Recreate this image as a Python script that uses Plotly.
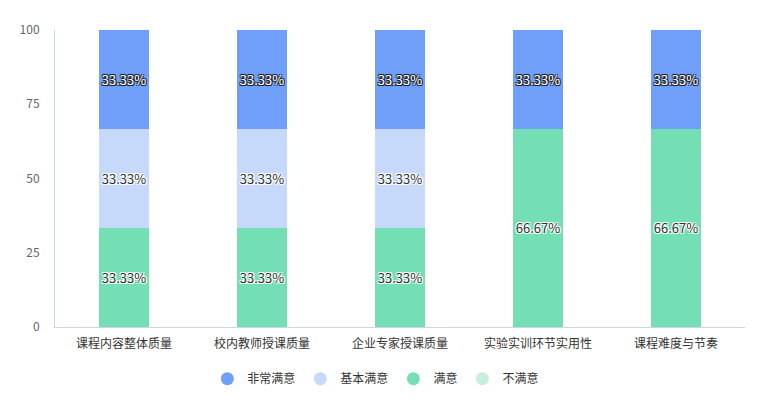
import plotly.graph_objects as go

# Data
categories = ["课程内容整体质量", "校内教师授课质量", "企业专家授课质量", "实验实训环节实用性", "课程难度与节奏"]
very_satisfied = [33.33, 33.33, 33.33, 33.33, 33.33]
basic_satisfied = [33.33, 33.33, 33.33, 0, 0]
satisfied = [33.33, 33.33, 33.33, 66.67, 66.67]
unsatisfied = [0, 0, 0, 0, 0]
y_ticks = [0, 25, 50, 75, 100]

colors = {
    "非常满意": "#709ffa",
    "基本满意": "#c6d9fb",
    "满意": "#74dfb5",
    "不满意": "#c5f0de",
}

font_family = "Noto Sans CJK SC, Noto Sans, sans-serif"
halo_white = "-1px -1px 0 #fff, 1px -1px 0 #fff, -1px 1px 0 #fff, 1px 1px 0 #fff"
halo_dark = "-1px -1px 0 #222, 1px -1px 0 #222, -1px 1px 0 #222, 1px 1px 0 #222"


def labels(vals):
    return [f"{v:.2f}%" if v > 0 else "" for v in vals]


fig = go.Figure()

# stacked bottom to top
series = [
    ("不满意", unsatisfied, "#333", halo_white),
    ("满意", satisfied, "#333", halo_white),
    ("基本满意", basic_satisfied, "#333", halo_white),
    ("非常满意", very_satisfied, "#fff", halo_dark),
]
for name, vals, tcolor, shadow in series:
    fig.add_trace(go.Bar(
        x=categories, y=vals, name=name, legendgroup=name, showlegend=False,
        marker=dict(color=colors[name], line=dict(width=0)),
        text=labels(vals), textposition="inside", insidetextanchor="middle",
        textangle=0, constraintext="none",
        textfont=dict(size=13, color=tcolor, family=font_family, shadow=shadow),
        hovertemplate="%{x}<br>" + name + ": %{y}%<extra></extra>",
    ))

# legend entries with round markers
for name in ["非常满意", "基本满意", "满意", "不满意"]:
    fig.add_trace(go.Scatter(
        x=[None], y=[None], mode="markers", name=name, legendgroup=name,
        marker=dict(symbol="circle", size=13, color=colors[name]),
    ))

fig.update_layout(
    barmode="stack",
    bargap=0.64,
    width=766, height=411,
    margin=dict(l=55, r=21, t=30, b=84),
    paper_bgcolor="white", plot_bgcolor="white",
    font=dict(family=font_family, size=12, color="#666"),
    legend=dict(orientation="h", x=0.465, xanchor="center", y=-0.125, yanchor="top",
                font=dict(size=12, color="#333"), itemwidth=30, traceorder="normal"),
)
fig.update_xaxes(showline=True, linecolor="#ccd6eb", linewidth=1, ticks="",
                 tickfont=dict(size=12, color="#333"), showgrid=False,
                 ticklabelstandoff=6)
fig.update_yaxes(range=[0, 100], tickvals=y_ticks, showgrid=False, zeroline=False,
                 showline=True, linecolor="#ccd6eb", linewidth=1, ticks="",
                 tickfont=dict(size=12, color="#666"), ticklabelstandoff=12)

fig.write_html("out.html", config={"displayModeBar": False},
               post_script="document.body.style.margin='0';")
